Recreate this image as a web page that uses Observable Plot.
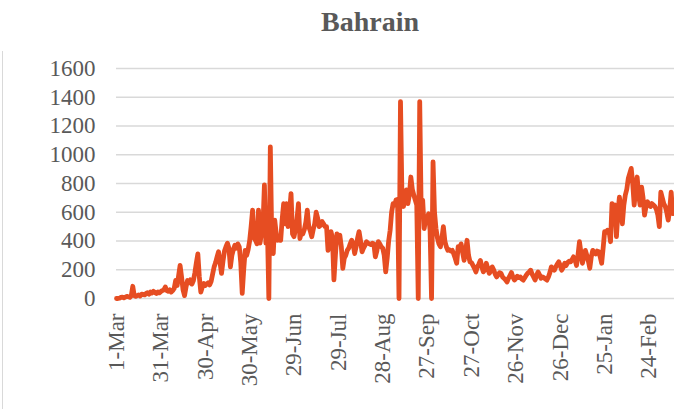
<!DOCTYPE html>
<html><head><meta charset="utf-8">
<script src="https://cdn.jsdelivr.net/npm/d3@7"></script>
<script src="https://cdn.jsdelivr.net/npm/@observablehq/plot@0.6"></script>
<style>
body{margin:0;background:#fff;}
#wrap{position:relative;width:674px;height:409px;overflow:hidden;background:#fff;}
#title{height:46px;font-family:"Liberation Serif","Times New Roman",serif;font-weight:bold;font-size:28px;color:#595959;line-height:44px;padding-left:321px;box-sizing:border-box;}
#border{position:absolute;left:2px;top:51px;width:1px;height:358px;background:#d9d9d9;}
</style></head>
<body>
<div id="wrap">
<div id="title">Bahrain</div>
<div id="border"></div>
<div id="chart"></div>
</div>
<script>
const startDate = "2020-03-01";
const endDate = "2021-03-13";
const cases = [
0,0,2,8,10,5,10,15,12,8,
20,85,20,15,20,25,18,30,28,25,
35,40,30,45,38,50,42,35,45,40,
48,55,60,80,55,50,60,45,55,70,
125,90,160,230,150,60,20,80,125,110,
130,100,125,180,250,310,150,45,80,105,
90,100,110,95,120,170,220,250,290,325,
250,175,260,330,360,385,350,220,300,340,
370,350,380,360,250,35,200,335,300,340,
400,500,615,420,405,380,615,385,450,500,
790,385,500,0,1055,400,313,545,450,405,
420,405,550,660,520,660,500,600,730,450,
430,480,550,660,417,460,450,480,530,615,
500,470,430,480,520,600,560,500,510,535,
520,500,500,335,380,465,420,130,300,450,
430,440,360,210,280,300,335,350,380,405,
380,313,360,420,465,400,325,350,370,395,
385,380,375,385,380,290,330,395,380,360,
350,300,185,280,400,475,600,660,650,685,
690,0,1370,700,640,700,755,660,720,845,
760,720,685,650,0,1370,600,685,487,550,
560,590,475,0,950,600,487,420,380,360,
420,500,400,360,335,340,330,335,310,280,
245,360,340,380,320,265,330,405,300,255,
250,230,210,185,220,240,265,220,185,200,
245,210,175,190,220,200,170,150,165,180,
175,150,140,130,115,140,160,180,150,128,
140,155,145,150,135,128,145,162,175,185,
197,170,150,128,160,185,165,140,150,145,
135,128,150,180,220,210,197,220,240,255,
230,197,215,245,230,250,260,255,270,290,
270,230,300,395,320,245,290,335,300,260,
210,290,335,320,310,330,325,290,245,350,
465,460,475,470,395,660,640,650,430,600,
705,620,520,650,720,760,835,870,905,800,
650,760,845,720,650,775,700,580,640,673,
650,640,660,650,640,620,580,500,740,700,
660,640,600,545,620,740,590
];
const tickDates = ["2020-03-01","2020-03-31","2020-04-30","2020-05-30","2020-06-29","2020-07-29","2020-08-28","2020-09-27","2020-10-27","2020-11-26","2020-12-26","2021-01-25","2021-02-24"];
const yTicks = [0,200,400,600,800,1000,1200,1400,1600];

const t0 = new Date(startDate + "T00:00:00Z");
const data = cases.map((v, i) => ({date: d3.utcDay.offset(t0, i), value: v}));
const ticks = tickDates.map(s => new Date(s + "T00:00:00Z"));

const chart = Plot.plot({
  width: 674,
  height: 363,
  marginLeft: 116,
  marginRight: 0,
  marginTop: 22,
  marginBottom: 111,
  style: {fontFamily: "'Liberation Serif','Times New Roman',serif", fontSize: "23px", color: "#595959", background: "#fff"},
  x: {type: "utc", domain: [t0, new Date(endDate + "T06:00:00Z")]},
  y: {domain: [0, 1600]},
  marks: [
    Plot.gridY(yTicks, {stroke: "#d9d9d9", strokeOpacity: 1, strokeWidth: 1.5}),
    Plot.axisY(yTicks, {tickSize: 0, tickPadding: 21, tickFormat: d => String(d), label: null}),
    Plot.axisX(ticks, {tickSize: 0, tickPadding: 15, tickRotate: -90, tickFormat: d3.utcFormat("%-d-%b"), label: null}),
    Plot.line(data, {x: "date", y: "value", stroke: "#e64d22", strokeWidth: 4.8, strokeLinejoin: "round", strokeLinecap: "round"})
  ]
});
document.getElementById("chart").appendChild(chart);
</script>
</body></html>
